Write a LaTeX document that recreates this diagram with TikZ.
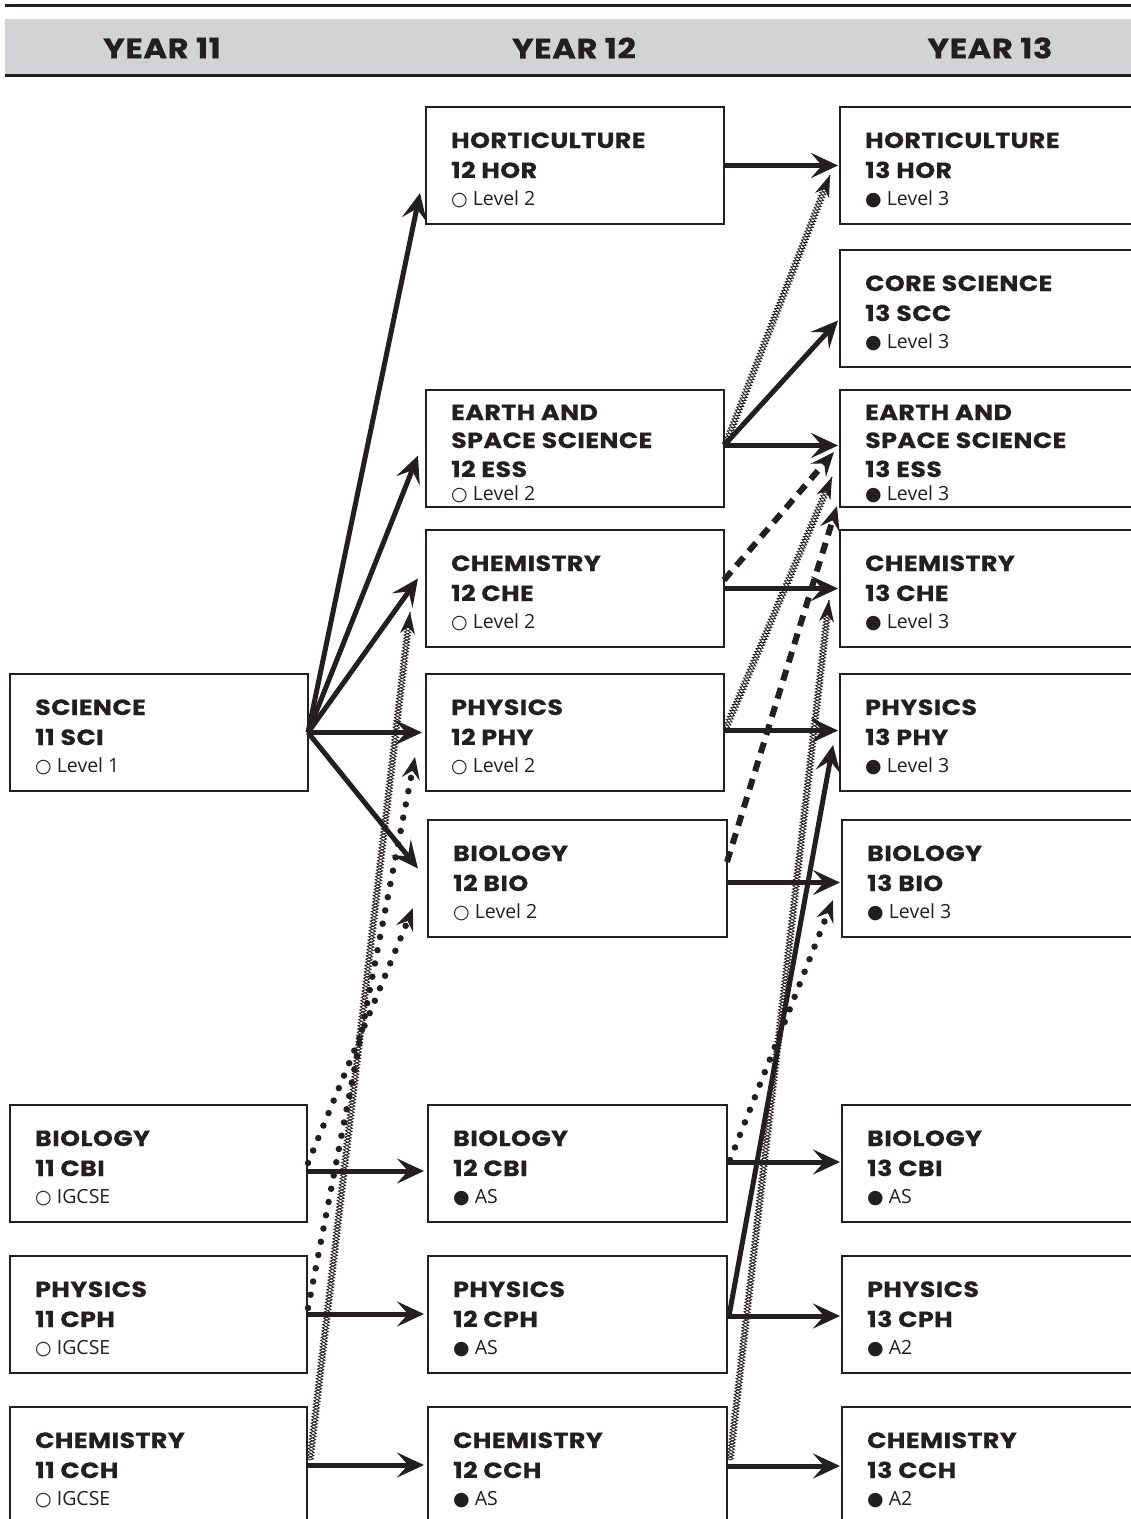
\documentclass[tikz,border=0pt]{standalone}
\usepackage{fontspec}
\newfontfamily\ttlfont{Poppins}[FakeStretch=1.15,LetterSpace=2,FakeBold=0.5]
\newfontfamily\lvlfont{Open Sans}
\newfontfamily\symfont{DejaVu Sans}
\usetikzlibrary{arrows.meta,decorations.pathmorphing}
\definecolor{dark}{HTML}{231F20}
\definecolor{band}{HTML}{D1D3D4}
\newcommand\osym{{\symfont\fontsize{19}{19}\selectfont ○}}
\newcommand\fsym{{\symfont\fontsize{19}{19}\selectfont ●}}
\newcommand\coursebox[8]{%
  \node[cbox,minimum width=#4,minimum height=#5] (#1) at (#2,#3) {};
  \node[ttl] (#1-a) at (#2+25,#3+41) {#6};
  \node[ttl] (#1-b) at (#2+25,#3+71) {#7};
  \node[lvl] (#1-c) at (#2+25,#3+98) {#8};
}
\newcommand\coursequad[9]{%
  \node[cbox,minimum width=#4,minimum height=#5] (#1) at (#2,#3) {};
  \node[ttl] (#1-a) at (#2+25,#3+30) {#6};
  \node[ttl] (#1-b) at (#2+25,#3+58) {#7};
  \node[ttl] (#1-c) at (#2+25,#3+87) {#8};
  \node[lvl] (#1-d) at (#2+25,#3+110) {#9};
}
\begin{document}
\begin{tikzpicture}[x=1pt,y=-1pt,
  cbox/.style={rectangle,anchor=north west,draw=dark,line width=2.5pt,inner sep=0pt,outer sep=0pt,fill=white},
  ttl/.style={anchor=base west,inner sep=0pt,text=dark,font=\ttlfont\bfseries\fontsize{22}{22}\selectfont},
  lvl/.style={anchor=base west,inner sep=0pt,text=dark,font=\lvlfont\fontsize{19.5}{19.5}\selectfont},
  hdr/.style={inner sep=0pt,text=dark,font=\ttlfont\bfseries\fontsize{28}{28}\selectfont},
  sarr/.style={draw=dark,line width=5pt,-{Stealth[length=27pt,width=25pt,inset=11pt]}},
  darr/.style={draw=dark,line width=6pt,dash pattern=on 11pt off 8pt,-{Stealth[length=24pt,width=20pt,inset=9pt]}},
  parr/.style={draw=dark,line width=6.5pt,line cap=round,dash pattern=on 0pt off 13.5pt,-{Stealth[length=22pt,width=18pt,inset=8pt]}},
  harr/.style={draw=dark,line width=0.85pt,dash pattern=on 0pt off 5000pt,-{Stealth[length=22pt,width=15pt,inset=7pt]},
    postaction={draw=dark,solid,-,decorate,decoration={zigzag,amplitude=3.2pt,segment length=6.4pt,post length=12pt}},
    postaction={draw=dark,solid,-,decorate,decoration={zigzag,amplitude=3.2pt,segment length=6.4pt,mirror,post length=12pt}}}
]
\useasboundingbox (0,0) rectangle (1131,1519);
\clip (0,0) rectangle (1131,1519);
% header
\draw[dark,line width=3pt] (5,5) -- (1131,5);
\fill[band] (5,19) rectangle (1131,74);
\draw[dark,line width=3pt] (5,75.5) -- (1131,75.5);
\node[hdr] (y11) at (162,48) {YEAR 11};
\node[hdr] (y12) at (574,48) {YEAR 12};
\node[hdr] (y13) at (990,48) {YEAR 13};
% year 11
\coursebox{sci}{10}{674}{298}{117}{SCIENCE}{11 SCI}{\osym\ Level 1}
\coursebox{cbi11}{10}{1105}{297}{117}{BIOLOGY}{11 CBI}{\osym\ IGCSE}
\coursebox{cph11}{10}{1256}{297}{117}{PHYSICS}{11 CPH}{\osym\ IGCSE}
\coursebox{cch11}{10}{1407}{297}{130}{CHEMISTRY}{11 CCH}{\osym\ IGCSE}
% year 12
\coursebox{h12}{426}{107}{298}{117}{HORTICULTURE}{12 HOR}{\osym\ Level 2}
\coursequad{e12}{426}{390}{298}{117}{EARTH AND}{SPACE SCIENCE}{12 ESS}{\osym\ Level 2}
\coursebox{c12}{426}{530}{298}{117}{CHEMISTRY}{12 CHE}{\osym\ Level 2}
\coursebox{p12}{426}{674}{298}{117}{PHYSICS}{12 PHY}{\osym\ Level 2}
\coursebox{b12}{428}{820}{299}{117}{BIOLOGY}{12 BIO}{\osym\ Level 2}
\coursebox{cbi12}{428}{1105}{299}{117}{BIOLOGY}{12 CBI}{\fsym\ AS}
\coursebox{cph12}{428}{1256}{299}{117}{PHYSICS}{12 CPH}{\fsym\ AS}
\coursebox{cch12}{428}{1407}{299}{130}{CHEMISTRY}{12 CCH}{\fsym\ AS}
% year 13
\coursebox{h13}{840}{107}{310}{117}{HORTICULTURE}{13 HOR}{\fsym\ Level 3}
\coursebox{s13}{840}{250}{310}{117}{CORE SCIENCE}{13 SCC}{\fsym\ Level 3}
\coursequad{es13}{840}{390}{310}{117}{EARTH AND}{SPACE SCIENCE}{13 ESS}{\fsym\ Level 3}
\coursebox{c13}{840}{530}{310}{117}{CHEMISTRY}{13 CHE}{\fsym\ Level 3}
\coursebox{p13}{840}{674}{310}{117}{PHYSICS}{13 PHY}{\fsym\ Level 3}
\coursebox{b13}{842}{820}{310}{117}{BIOLOGY}{13 BIO}{\fsym\ Level 3}
\coursebox{cbi13}{842}{1105}{310}{117}{BIOLOGY}{13 CBI}{\fsym\ AS}
\coursebox{cph13}{842}{1256}{310}{117}{PHYSICS}{13 CPH}{\fsym\ A2}
\coursebox{cch13}{842}{1407}{310}{130}{CHEMISTRY}{13 CCH}{\fsym\ A2}
% hatched
\draw[harr] ([shift={(1,-3)}]e12.east) -- ([shift={(-10,68)}]h13.north west);
\draw[harr] ([shift={(2,54)}]p12.north east) -- ([shift={(-8,87)}]es13.north west);
\draw[harr] ([shift={(3,53)}]cch11.north east) -- ([shift={(-16,82)}]c12.north west);
\draw[harr] ([shift={(3,53)}]cch12.north east) -- ([shift={(-11,70)}]c13.north west);
% dotted
\draw[parr] ([shift={(1,58)}]cbi11.north east) -- ([shift={(-15,88)}]b12.north west);
\draw[parr] ([shift={(1,52)}]cph11.north east) -- ([shift={(-11,83)}]p12.north west);
\draw[parr] ([shift={(3,55)}]cbi12.north east) -- ([shift={(-9,80)}]b13.north west);
% dashed
\draw[darr] ([shift={(0,50)}]c12.north east) -- ([shift={(-6,62)}]es13.north west);
\draw[darr] ([shift={(0,42)}]b12.north east) -- ([shift={(-3,-1)}]es13.south west);
% solid
\draw[sarr] (h12.east) -- ([shift={(-2,0)}]h13.west);
\draw[sarr] (sci.east) -- ([shift={(-6,-31)}]h12.south west);
\draw[sarr] (sci.east) -- ([shift={(-8,7)}]e12.west);
\draw[sarr] (sci.east) -- ([shift={(-8,-10)}]c12.west);
\draw[sarr] (sci.east) -- ([shift={(-4,0)}]p12.west);
\draw[sarr] (sci.east) -- ([shift={(-10,-10)}]b12.west);
\draw[sarr] ([shift={(0,-3)}]e12.east) -- ([shift={(-2,12)}]s13.west);
\draw[sarr] ([shift={(0,-3)}]e12.east) -- ([shift={(-2,-3)}]es13.west);
\draw[sarr] (c12.east) -- ([shift={(-2,0)}]c13.west);
\draw[sarr] ([shift={(0,-2)}]p12.east) -- ([shift={(-2,-2)}]p13.west);
\draw[sarr] ([shift={(0,4)}]b12.east) -- ([shift={(-2,4)}]b13.west);
\draw[sarr] ([shift={(0,66)}]cbi11.north east) -- ([shift={(-4,66)}]cbi12.north west);
\draw[sarr] ([shift={(0,58)}]cph11.north east) -- ([shift={(-4,58)}]cph12.north west);
\draw[sarr] ([shift={(0,58)}]cch11.north east) -- ([shift={(-4,58)}]cch12.north west);
\draw[sarr] ([shift={(0,57)}]cbi12.north east) -- ([shift={(-2,57)}]cbi13.north west);
\draw[sarr] ([shift={(0,60)}]cph12.north east) -- ([shift={(-2,60)}]cph13.north west);
\draw[sarr] ([shift={(0,59)}]cch12.north east) -- ([shift={(-2,59)}]cch13.north west);
\draw[sarr] ([shift={(2,60)}]cph12.north east) -- ([shift={(-7,71)}]p13.north west);
\end{tikzpicture}
\end{document}
